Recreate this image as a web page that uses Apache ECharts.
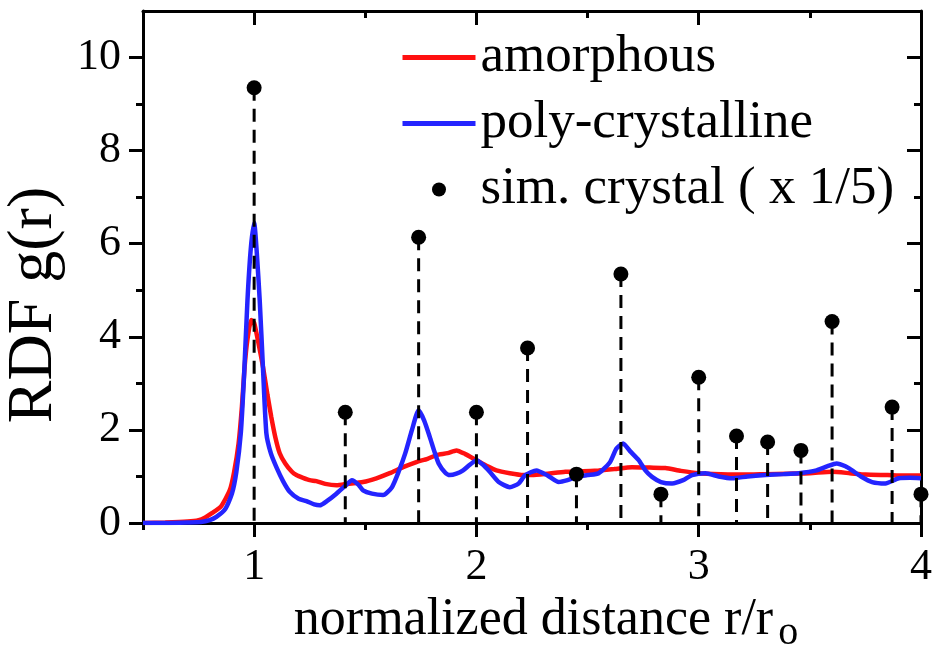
<!DOCTYPE html>
<html>
<head>
<meta charset="utf-8">
<script src="https://cdn.jsdelivr.net/npm/echarts@6/dist/echarts.min.js"></script>
<style>
    html, body {margin: 0; padding: 0; background: #fff;}
    #main {width: 937px; height: 655px;}
</style>
</head>
<body>
<div id="main"></div>
<script>
// amorphous RDF
var amorphousX = [0.50, 0.60, 0.70, 0.75, 0.78, 0.81, 0.85, 0.89, 0.91, 0.93, 0.945, 0.957, 0.97, 0.987, 1.00, 1.02, 1.04, 1.06, 1.077, 1.095,
    1.115, 1.14, 1.17, 1.19, 1.22, 1.25, 1.28, 1.32, 1.37, 1.42, 1.49, 1.55, 1.61, 1.67, 1.73, 1.78, 1.82, 1.87, 1.91, 1.95,
    2.00, 2.05, 2.09, 2.15, 2.21, 2.25, 2.32, 2.40, 2.48, 2.55, 2.62, 2.70, 2.78, 2.85, 2.92, 3.00, 3.10, 3.20, 3.30, 3.40,
    3.50, 3.60, 3.68, 3.75, 3.85, 3.92, 4.00];
var amorphousY = [0.00, 0.01, 0.03, 0.06, 0.12, 0.21, 0.35, 0.70, 1.10, 1.71, 2.50, 3.35, 3.95, 4.36, 4.30, 3.85, 3.35, 2.75, 2.28, 1.85,
    1.50, 1.28, 1.10, 1.03, 0.97, 0.92, 0.90, 0.84, 0.81, 0.84, 0.88, 0.96, 1.07, 1.20, 1.31, 1.38, 1.46, 1.50, 1.56, 1.48,
    1.35, 1.22, 1.13, 1.07, 1.03, 1.03, 1.06, 1.10, 1.11, 1.13, 1.16, 1.20, 1.19, 1.18, 1.12, 1.07, 1.05, 1.04, 1.05, 1.06,
    1.07, 1.10, 1.07, 1.04, 1.03, 1.02, 1.02];

// poly-crystalline RDF
var polyX = [0.50, 0.60, 0.70, 0.76, 0.80, 0.83, 0.87, 0.90, 0.92, 0.94, 0.955, 0.97, 0.985, 1.00, 1.012, 1.025, 1.04, 1.055, 1.075, 1.10,
    1.13, 1.16, 1.20, 1.235, 1.27, 1.295, 1.33, 1.37, 1.41, 1.44, 1.47, 1.49, 1.53, 1.58, 1.62, 1.65, 1.68, 1.71, 1.74, 1.765,
    1.79, 1.81, 1.83, 1.86, 1.88, 1.91, 1.94, 1.97, 2.00, 2.03, 2.06, 2.10, 2.15, 2.19, 2.22, 2.27, 2.32, 2.37, 2.41, 2.45,
    2.50, 2.55, 2.60, 2.63, 2.66, 2.69, 2.73, 2.76, 2.79, 2.83, 2.88, 2.93, 2.97, 3.03, 3.09, 3.15, 3.22, 3.30, 3.38, 3.45,
    3.53, 3.58, 3.62, 3.66, 3.69, 3.73, 3.78, 3.84, 3.90, 3.95, 4.00];
var polyY = [0.00, 0.00, 0.01, 0.02, 0.06, 0.13, 0.30, 0.63, 1.10, 1.93, 3.20, 4.79, 5.90, 6.45, 5.80, 4.79, 3.30, 1.93, 1.50, 1.20,
    0.90, 0.67, 0.52, 0.47, 0.40, 0.38, 0.48, 0.63, 0.80, 0.92, 0.82, 0.70, 0.63, 0.60, 0.77, 1.10, 1.50, 2.00, 2.42, 2.20,
    1.85, 1.55, 1.28, 1.08, 1.03, 1.06, 1.13, 1.25, 1.35, 1.25, 1.10, 0.88, 0.77, 0.85, 1.03, 1.13, 1.02, 0.88, 0.92, 0.99,
    1.03, 1.07, 1.30, 1.60, 1.71, 1.55, 1.35, 1.13, 0.99, 0.88, 0.85, 0.92, 1.03, 1.07, 1.00, 0.96, 1.00, 1.03, 1.05, 1.07,
    1.13, 1.22, 1.28, 1.22, 1.13, 1.00, 0.88, 0.85, 0.96, 0.97, 0.96];

// simulated crystal peaks (x 1/5)
var crystalX = [1.00, 1.41, 1.74, 2.00, 2.23, 2.45, 2.65, 2.83, 3.00, 3.17, 3.31, 3.46, 3.60, 3.87, 4.00];
var crystalY = [9.35, 2.38, 6.14, 2.38, 3.76, 1.05, 5.35, 0.62, 3.13, 1.87, 1.74, 1.56, 4.33, 2.49, 0.62];

// ticks
var xMajorTicks = [1, 2, 3, 4];
var xMinorTicks = [0.5, 1.5, 2.5, 3.5];
var yMajorTicks = [0, 2, 4, 6, 8, 10];
var yMinorTicks = [1, 3, 5, 7, 9];

var fontFamily = "'Liberation Serif', 'Times New Roman', serif";

function pairs(xs, ys) {
    return xs.map(function (x, i) {
        return [x, ys[i]];
    });
}

// one helper for the frame axes
function frameAxis(pos, min, max, ticks, len, inside, withLine) {
    return {
        type: 'value',
        position: pos,
        min: min,
        max: max,
        axisLine: {show: withLine, onZero: false, lineStyle: {color: '#000', width: 3}},
        axisTick: {show: true, inside: inside, customValues: ticks, length: len, lineStyle: {color: '#000', width: 3}},
        axisLabel: {show: false},
        splitLine: {show: false}
    };
}

var chart = echarts.init(document.getElementById('main'), null, {renderer: 'canvas'});

var xMain = frameAxis('bottom', 0.5, 4, xMajorTicks, 14, false, true);
xMain.axisLabel = {show: true, customValues: xMajorTicks, fontSize: 44, margin: 22, color: '#000', fontFamily: fontFamily};
xMain.name = 'normalized distance r/r{sub|o}';
xMain.nameLocation = 'middle';
xMain.nameGap = 62;
xMain.nameTextStyle = {
    fontSize: 52, color: '#000', fontFamily: fontFamily, padding: [0, 0, 0, 28],
    rich: {sub: {fontSize: 40, color: '#000', fontFamily: fontFamily, verticalAlign: 'top', padding: [28, 0, 0, 5]}}
};

var yMain = frameAxis('left', 0, 11, yMajorTicks, 14, false, true);
yMain.axisLabel = {show: true, customValues: yMajorTicks, fontSize: 44, margin: 22, color: '#000', fontFamily: fontFamily};
yMain.name = 'RDF g(r)';
yMain.nameLocation = 'middle';
yMain.nameGap = 72;
yMain.nameTextStyle = {fontSize: 64, color: '#000', fontFamily: fontFamily, padding: [0, 76, 0, 0]};

var option = {
    animation: false,
    backgroundColor: '#fff',
    grid: {left: 143, right: 16, top: 11, bottom: 132, containLabel: false, outerBoundsMode: 'none'},
    legend: {
        orient: 'vertical',
        left: 400,
        top: 31,
        padding: 0,
        itemWidth: 73,
        itemHeight: 14,
        itemGap: 13,
        textStyle: {fontSize: 53, color: '#000', fontFamily: fontFamily},
        data: [
            {name: 'amorphous', itemStyle: {opacity: 0}, lineStyle: {width: 5}},
            {name: 'poly-crystalline', itemStyle: {opacity: 0}, lineStyle: {width: 5}},
            {name: 'sim. crystal ( x 1/5)', icon: 'circle'}
        ]
    },
    xAxis: [
        xMain,
        frameAxis('bottom', 0.5, 4, xMinorTicks, 7, false, false),
        frameAxis('top', 0.5, 4, xMajorTicks, 14, true, true),
        frameAxis('top', 0.5, 4, xMinorTicks, 7, true, false)
    ],
    yAxis: [
        yMain,
        frameAxis('left', 0, 11, yMinorTicks, 7, false, false),
        frameAxis('right', 0, 11, yMajorTicks, 14, true, true),
        frameAxis('right', 0, 11, yMinorTicks, 7, true, false)
    ],
    series: [
        {
            name: 'amorphous',
            type: 'line',
            data: pairs(amorphousX, amorphousY),
            symbol: 'none',
            smooth: 0.2,
            lineStyle: {color: '#ff1010', width: 4.5},
            itemStyle: {color: '#ff1010'},
            z: 3
        },
        {
            name: 'poly-crystalline',
            type: 'line',
            data: pairs(polyX, polyY),
            symbol: 'none',
            smooth: 0.2,
            lineStyle: {color: '#2424ff', width: 4.5},
            itemStyle: {color: '#2424ff'},
            z: 4
        },
        {
            // dashed drop lines under each crystal peak
            type: 'custom',
            data: pairs(crystalX, crystalY),
            renderItem: function (params, api) {
                var top = api.coord([api.value(0), api.value(1)]);
                var bottom = api.coord([api.value(0), 0]);
                return {
                    type: 'line',
                    shape: {x1: top[0], y1: top[1], x2: bottom[0], y2: bottom[1]},
                    style: {stroke: '#000', lineWidth: 3, lineDash: [13, 8]}
                };
            },
            z: 5
        },
        {
            name: 'sim. crystal ( x 1/5)',
            type: 'scatter',
            data: pairs(crystalX, crystalY),
            symbol: 'circle',
            symbolSize: 15,
            itemStyle: {color: '#000', opacity: 1},
            z: 6
        }
    ]
};

chart.setOption(option);
</script>
</body>
</html>
